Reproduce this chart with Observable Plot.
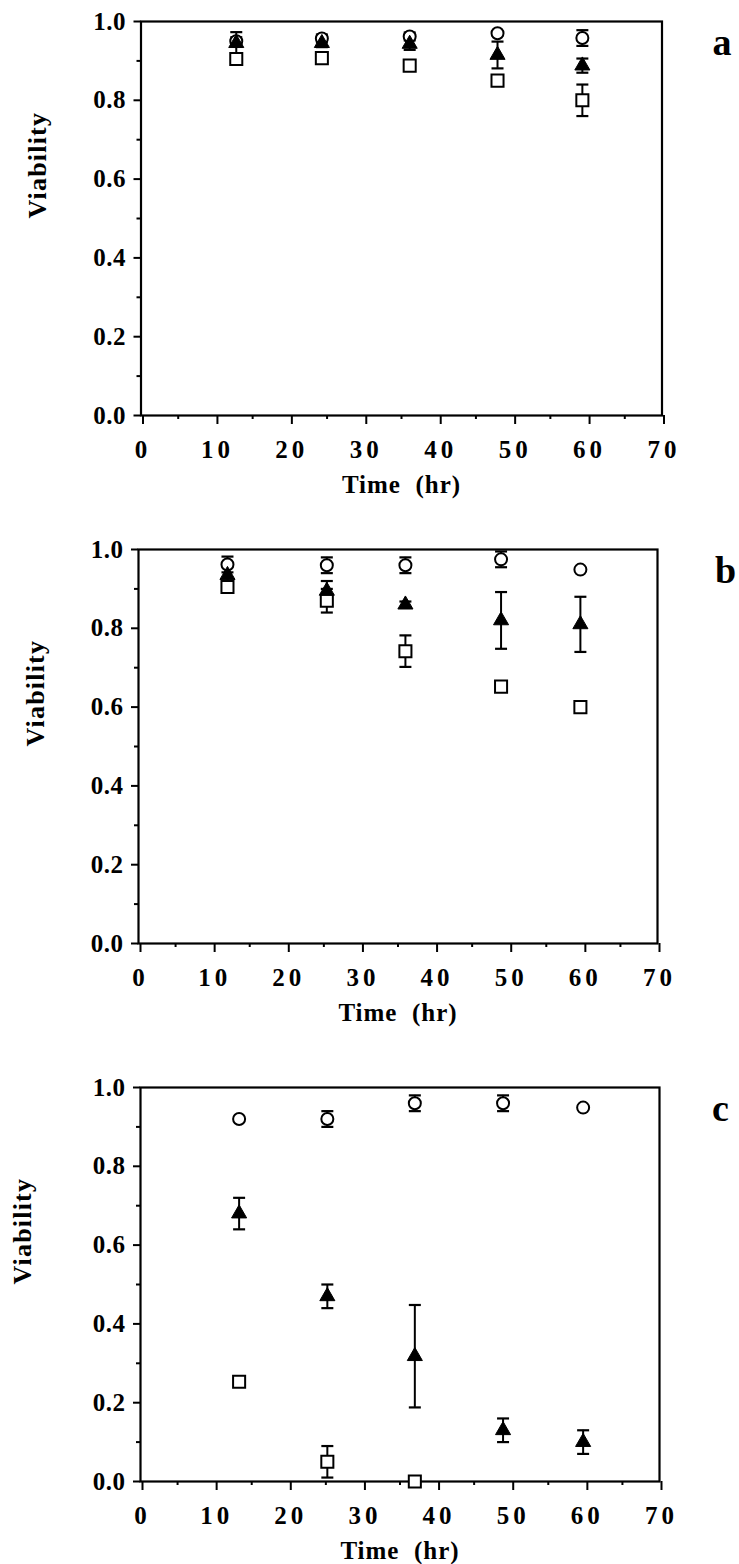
<!DOCTYPE html>
<html>
<head>
<meta charset="utf-8">
<script src="https://cdn.jsdelivr.net/npm/d3@7"></script>
<script src="https://cdn.jsdelivr.net/npm/@observablehq/plot@0.6"></script>
<style>
  html, body { margin: 0; padding: 0; background: white; }
  #wrap { position: relative; width: 739px; height: 1564px; overflow: hidden; }
  .panel { position: absolute; left: 0; }
  .panel svg { overflow: visible; }
  .panel svg text { font-family: "Liberation Serif", "Times New Roman", serif !important; font-weight: bold; }
  g[aria-label="x-axis tick label"] text { font-size: 25px; letter-spacing: 4px; }
  g[aria-label="y-axis tick label"] text { font-size: 25px; letter-spacing: 0.5px; }
  .ttl text { font-size: 25px; letter-spacing: 1px; }
  .vtl text { font-size: 26px; letter-spacing: 1.2px; }
  .ltr text { font-size: 38px; }
</style>
</head>
<body>
<div id="wrap"></div>
<script>
// ---------------- data ----------------
// Panel a
const timeA = [12.8, 24.3, 36.1, 47.9, 59.3];
const circleA = [0.950, 0.957, 0.962, 0.970, 0.958];
const circleErrA = [0.010, 0.010, 0.010, 0.005, 0.020];
const triangleA = [0.945, 0.945, 0.943, 0.915, 0.888];
const triangleErrA = [0.028, 0.010, 0.015, 0.034, 0.018];
const squareTimeA = [12.8, 24.3, 36.1, 47.9, 59.3];
const squareA = [0.905, 0.907, 0.888, 0.850, 0.800];
const squareErrA = [0.010, 0.010, 0.012, 0.008, 0.040];

// Panel b
const timeB = [12.0, 25.4, 36.0, 48.9, 59.6];
const circleB = [0.962, 0.960, 0.960, 0.975, 0.949];
const circleErrB = [0.020, 0.020, 0.020, 0.020, 0.004];
const triangleB = [0.935, 0.895, 0.860, 0.820, 0.810];
const triangleErrB = [0.020, 0.025, 0.008, 0.072, 0.070];
const squareTimeB = [12.0, 25.4, 36.0, 48.9, 59.6];
const squareB = [0.905, 0.870, 0.742, 0.652, 0.600];
const squareErrB = [0.015, 0.030, 0.040, 0.010, 0.010];

// Panel c
const timeC = [13.3, 25.2, 37.0, 48.9, 59.7];
const circleC = [0.920, 0.920, 0.960, 0.960, 0.949];
const circleErrC = [0.004, 0.020, 0.020, 0.020, 0.004];
const triangleC = [0.680, 0.470, 0.318, 0.130, 0.100];
const triangleErrC = [0.040, 0.030, 0.130, 0.030, 0.030];
const squareTimeC = [13.3, 25.2, 37.0];
const squareC = [0.253, 0.050, 0.000];
const squareErrC = [0.004, 0.040, 0.004];

const xMajor = [0, 10, 20, 30, 40, 50, 60, 70];
const xMinor = [5, 15, 25, 35, 45, 55, 65];
const yMajor = [0, 0.2, 0.4, 0.6, 0.8, 1.0];
const yMinor = [0.1, 0.3, 0.5, 0.7, 0.9];
const xTitle = "Time  (hr)";
const yTitle = "Viability";

// ---------------- drawing ----------------
const capSymbol = {
  draw(ctx, size) {
    const w = 6;
    ctx.moveTo(-w, 0); ctx.lineTo(w, 0);
  }
};

function rows(times, vals, errs) {
  return times.map((t, i) => ({t, v: vals[i], e: errs[i]}));
}

function panel(cfg) {
  const circ = rows(cfg.times, cfg.circle, cfg.circleErr);
  const tri = rows(cfg.times, cfg.triangle, cfg.triangleErr);
  const sq = rows(cfg.squareTimes, cfg.square, cfg.squareErr);
  const all = [...circ, ...tri, ...sq];
  const caps = all.flatMap(d => [{t: d.t, y: d.v + d.e}, {t: d.t, y: Math.max(0, d.v - d.e)}]);
  const plot = Plot.plot({
    width: 739,
    height: 500,
    marginTop: 21,
    marginBottom: 85,
    marginLeft: cfg.ml,
    marginRight: cfg.mr,
    style: {fontFamily: "'Liberation Serif', 'Times New Roman', serif", fontWeight: "bold", background: "white", overflow: "visible"},
    x: {domain: [0, 70]},
    y: {domain: [0, 1]},
    marks: [
      Plot.axisY(yMinor, {tickSize: 4, tickFormat: () => "", label: null, strokeWidth: 2}),
      Plot.axisY(yMajor, {tickSize: 7, tickPadding: 8, tickFormat: d3.format(".1f"), fontSize: 25, label: null, strokeWidth: 2}),
      Plot.axisX(xMinor, {tickSize: 4, tickFormat: () => "", label: null, strokeWidth: 2}),
      Plot.axisX(xMajor, {tickSize: 9, tickPadding: 16, fontSize: 25, dx: 2, label: null, strokeWidth: 2}),
      Plot.frame({stroke: "black", strokeWidth: 2.2}),
      Plot.ruleX(all, {x: "t", y1: d => Math.max(0, d.v - d.e), y2: d => d.v + d.e, stroke: "black", strokeWidth: 2}),
      Plot.dot(caps, {x: "t", y: "y", symbol: capSymbol, stroke: "black", strokeWidth: 2.2}),
      Plot.dot(circ, {x: "t", y: "v", symbol: "circle", r: 6, fill: "white", stroke: "black", strokeWidth: 2}),
      Plot.dot(sq, {x: "t", y: "v", symbol: "square", r: 6.8, fill: "white", stroke: "black", strokeWidth: 2}),
      Plot.dot(tri, {x: "t", y: "v", symbol: "triangle", r: 5.6, fill: "black", stroke: "black", strokeWidth: 1}),
      Plot.text([xTitle], {frameAnchor: "bottom", dy: 69, fontSize: 25, lineAnchor: "middle", className: "ttl"}),
      Plot.text([yTitle], {frameAnchor: "left", dx: cfg.yTitleDx, rotate: -90, fontSize: 26, lineAnchor: "middle", className: "vtl"}),
      Plot.text([cfg.letter], {frameAnchor: "top-right", dx: cfg.letterDx, dy: 21, fontSize: 38, lineAnchor: "middle", textAnchor: "middle", className: "ltr"})
    ]
  });
  const div = document.createElement("div");
  div.className = "panel";
  div.style.top = cfg.top + "px";
  div.appendChild(plot);
  document.getElementById("wrap").appendChild(div);
}

panel({top: 0, ml: 140.5, mr: 77.5, letter: "a", letterDx: 60, yTitleDx: -103,
  times: timeA, circle: circleA, circleErr: circleErrA, triangle: triangleA, triangleErr: triangleErrA,
  squareTimes: squareTimeA, square: squareA, squareErr: squareErrA});
panel({top: 528, ml: 138, mr: 82, letter: "b", letterDx: 68, yTitleDx: -103,
  times: timeB, circle: circleB, circleErr: circleErrB, triangle: triangleB, triangleErr: triangleErrB,
  squareTimes: squareTimeB, square: squareB, squareErr: squareErrB});
panel({top: 1066, ml: 140, mr: 80, letter: "c", letterDx: 61, yTitleDx: -118,
  times: timeC, circle: circleC, circleErr: circleErrC, triangle: triangleC, triangleErr: triangleErrC,
  squareTimes: squareTimeC, square: squareC, squareErr: squareErrC});
</script>
</body>
</html>
